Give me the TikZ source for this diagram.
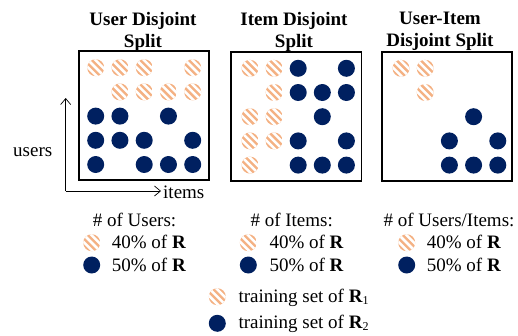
\documentclass[tikz,border=0pt]{standalone}
\usepackage{fontspec}
\setmainfont{Liberation Serif}
\usetikzlibrary{arrows.meta}
\definecolor{dotorange}{HTML}{F4B183}
\definecolor{dotnavy}{HTML}{002060}
\tikzset{
  hdot/.pic={
    \begin{scope}
      \clip (0,0) circle (8.5);
      \fill[dotorange] (-9,-9) rectangle (9,9);
      \begin{scope}[rotate=-45]
        \foreach \k in {-5.2,0,5.2}{\draw[white,line width=2.5pt] (-12,\k) -- (12,\k);}
      \end{scope}
    \end{scope}
  },
  ndot/.pic={\fill[dotnavy] (0,0) circle (8.5);},
  panel/.style={draw=black,line width=1.2pt},
  titletext/.style={font=\fontsize{19}{22}\selectfont\bfseries,align=center,anchor=north,inner sep=0pt},
  bodytext/.style={font=\fontsize{19}{22}\selectfont,inner sep=0pt},
  axis/.style={line width=0.7pt,-{Straight Barb[length=6pt,width=10pt]}}
}
\newcommand\boldR{\textbf{R}}
\begin{document}
\begin{tikzpicture}[x=1pt,y=1pt]
\useasboundingbox (0,0) rectangle (518,-335);
% titles
\node[titletext] (t1) at (143,-12) {User Disjoint\\Split};
\node[titletext] (t2) at (294,-12) {Item Disjoint\\Split};
\node[titletext] (t3) at (440,-12) {User-Item\\Disjoint Split};
% panels
\draw[panel] (79,-51) rectangle (209,-180);
\draw[panel] (231,-52) rectangle (361.5,-181);
\draw[panel] (382,-52) rectangle (512,-181);
% panel 1
\foreach \c/\r in {1/1,2/1,3/1,5/1,2/2,3/2,4/2,5/2}
  \pic at ({95.7+24.25*(\c-1)},{-(67.7+24.2*(\r-1))}) {hdot};
\foreach \c/\r in {1/3,2/3,4/3,1/4,2/4,3/4,5/4,1/5,3/5,4/5,5/5}
  \pic at ({95.7+24.25*(\c-1)},{-(67.7+24.2*(\r-1))}) {ndot};
% panel 2
\foreach \c/\r in {1/1,2/1,2/2,1/3,2/3,1/4,2/4,1/5}
  \pic at ({250+24.1*(\c-1)},{-(68.3+24.2*(\r-1))}) {hdot};
\foreach \c/\r in {3/1,5/1,3/2,4/2,5/2,4/3,3/4,5/4,3/5,4/5,5/5}
  \pic at ({250+24.1*(\c-1)},{-(68.3+24.2*(\r-1))}) {ndot};
% panel 3
\foreach \c/\r in {1/1,2/1,2/2}
  \pic at ({401+24.2*(\c-1)},{-(68.3+24.2*(\r-1))}) {hdot};
\foreach \c/\r in {4/3,3/4,5/4,3/5,4/5,5/5}
  \pic at ({401+24.2*(\c-1)},{-(68.3+24.2*(\r-1))}) {ndot};
% axes
\coordinate (o) at (65.7,-191);
\coordinate (ytop) at (65.7,-98);
\coordinate (xend) at (161,-191);
\draw[axis] (o) -- (ytop);
\draw[axis] (o) -- (xend);
\node[bodytext,anchor=base west] (users) at (13,-156) {users};
\node[bodytext,anchor=base west] (items) at (163,-198) {items};
% legends
\node[bodytext,anchor=base] (h1) at (134.5,-226) {\# of Users:};
\pic at (91.7,-242.7) {hdot};
\node[bodytext,anchor=base west] (a1) at (111.7,-248) {40\% of \boldR};
\pic at (91.7,-265) {ndot};
\node[bodytext,anchor=base west] (b1) at (111.7,-271) {50\% of \boldR};
\node[bodytext,anchor=base] (h2) at (291.7,-226) {\# of Items:};
\pic at (248.3,-242.7) {hdot};
\node[bodytext,anchor=base west] (a2) at (269.3,-248) {40\% of \boldR};
\pic at (248.3,-265) {ndot};
\node[bodytext,anchor=base west] (b2) at (269.3,-271) {50\% of \boldR};
\node[bodytext,anchor=base] (h3) at (449,-226) {\# of Users/Items:};
\pic at (406.7,-242.7) {hdot};
\node[bodytext,anchor=base west] (a3) at (426.7,-248) {40\% of \boldR};
\pic at (406.7,-265) {ndot};
\node[bodytext,anchor=base west] (b3) at (426.7,-271) {50\% of \boldR};
% bottom legend
\pic at (217.3,-296.7) {hdot};
\node[bodytext,anchor=base west] (l1) at (238.3,-302) {training set of \boldR\raisebox{-0.3ex}{\fontsize{12}{12}\selectfont 1}};
\pic at (217.3,-323.3) {ndot};
\node[bodytext,anchor=base west] (l2) at (238.3,-328) {training set of \boldR\raisebox{-0.3ex}{\fontsize{12}{12}\selectfont 2}};
\end{tikzpicture}
\end{document}
